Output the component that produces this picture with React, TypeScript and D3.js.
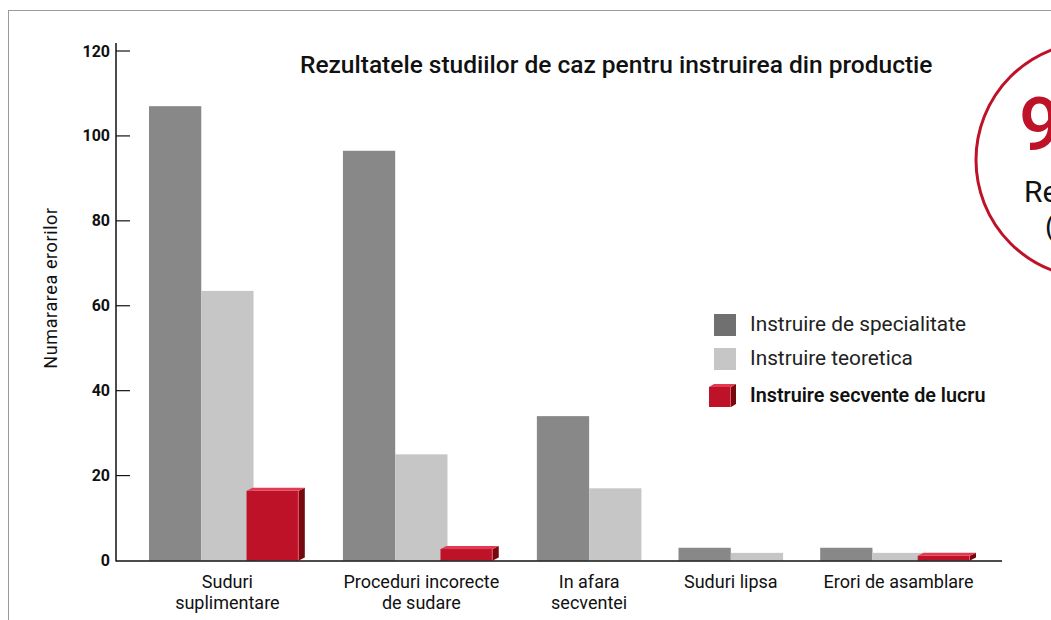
import React from "react";
import * as d3 from "d3";

const categories: string[][] = [
  ["Suduri", "suplimentare"],
  ["Proceduri incorecte", "de sudare"],
  ["In afara", "secventei"],
  ["Suduri lipsa"],
  ["Erori de asamblare"],
];
const specialitate = [107, 96.5, 34, 3, 3];
const teoretica = [63.5, 25, 17, 1.8, 1.8];
const secvente: (number | null)[] = [16.4, 2.7, null, null, 1.1];
const yTicks = [0, 20, 40, 60, 80, 100, 120];
const seriesNames = ["Instruire de specialitate", "Instruire teoretica", "Instruire secvente de lucru"];

const W = 1051;
const H = 620;
const FONT = "Roboto, 'Noto Sans', sans-serif";
const DARK = "#888888";
const LIGHT = "#c6c6c6";
const RED = "#be1229";
const RED_SIDE = "#74090f";
const RED_TOP = "#e23a52";

function Box3D({ x, y, w, h, d = 6, lift = 3 }: { x: number; y: number; w: number; h: number; d?: number; lift?: number }) {
  const top = `M${x},${y} L${x + d},${y - lift} L${x + w + d},${y - lift} L${x + w},${y} Z`;
  const side = `M${x + w},${y} L${x + w + d},${y - lift} L${x + w + d},${y + h - lift} L${x + w},${y + h} Z`;
  return (
    <g>
      <path d={side} fill={RED_SIDE} />
      <path d={top} fill={RED_TOP} />
      <rect x={x} y={y} width={w} height={h} fill={RED} />
      <line x1={x + w - 0.5} x2={x + w - 0.5} y1={y} y2={y + h} stroke="#e8566a" strokeWidth={1} />
    </g>
  );
}

export default function App() {
  const y = d3.scaleLinear().domain([0, 120]).range([560.5, 51]);

  // Groups are packed: each takes one slot per bar it actually has, with a fixed gap between groups.
  const GAP = 0.71;
  const slots = categories.map((_, i) => (secvente[i] != null ? 3 : 2));
  const starts: number[] = [];
  let acc = 0;
  slots.forEach((s) => {
    starts.push(acc);
    acc += s + GAP;
  });
  const total = acc - GAP;
  const x = d3.scaleLinear().domain([0, total]).range([149, 977]);
  const barW = x(1) - x(0);
  const axisX = 116;

  return (
    <svg
      width={W}
      height={H}
      style={{ position: "absolute", left: 0, top: 0, background: "#fff" }}
      fontFamily={FONT}
    >
      {/* frame */}
      <line x1={8.5} x2={8.5} y1={10} y2={H} stroke="#9a9a9a" strokeWidth={1} />
      <line x1={8} x2={W} y1={10.5} y2={10.5} stroke="#9a9a9a" strokeWidth={1} />

      {/* title */}
      <text x={300} y={73} fontSize={24.5} fontWeight={500} fill="#111">
        Rezultatele studiilor de caz pentru instruirea din productie
      </text>

      {/* y axis */}
      <line x1={axisX} x2={axisX} y1={43} y2={y(0) + 1} stroke="#111" strokeWidth={1.5} />
      {yTicks.map((t) => (
        <g key={t}>
          {t > 0 && <line x1={axisX} x2={130} y1={y(t)} y2={y(t)} stroke="#111" strokeWidth={1.2} />}
          <text x={110} y={y(t) + 5.5} textAnchor="end" fontSize={16} fontWeight={700} fill="#111">
            {t}
          </text>
        </g>
      ))}
      <text
        transform={`translate(57,288) rotate(-90)`}
        textAnchor="middle"
        fontSize={18}
        letterSpacing={0.6}
        fill="#111"
      >
        Numararea erorilor
      </text>

      {/* bars */}
      {categories.map((cat, i) => {
        const gx = x(starts[i]);
        const red = secvente[i];
        const labelX = (x(starts[i]) + x(starts[i] + slots[i])) / 2;
        return (
          <g key={i}>
            <rect x={gx} y={y(specialitate[i])} width={barW} height={y(0) - y(specialitate[i])} fill={DARK} />
            <rect x={gx + barW} y={y(teoretica[i])} width={barW} height={y(0) - y(teoretica[i])} fill={LIGHT} />
            {red != null && <Box3D x={gx + 2 * barW - 7} y={y(red)} w={barW} h={y(0) - y(red)} />}
            {cat.map((line, k) => (
              <text key={k} x={labelX} y={588 + k * 21} textAnchor="middle" fontSize={18} fill="#111">
                {line}
              </text>
            ))}
          </g>
        );
      })}

      {/* x axis */}
      <line x1={axisX} x2={1002} y1={y(0) + 0.5} y2={y(0) + 0.5} stroke="#111" strokeWidth={1.5} />

      {/* legend */}
      <g>
        <rect x={714} y={314} width={22} height={22} fill="#707070" />
        <text x={750} y={331} fontSize={20.8} fill="#222">{seriesNames[0]}</text>
        <rect x={714} y={348} width={22} height={22} fill={LIGHT} />
        <text x={750} y={365} fontSize={20.8} fill="#222">{seriesNames[1]}</text>
        <Box3D x={709} y={387} w={22} h={20} d={5} lift={3} />
        <text x={750} y={402} fontSize={19.8} fontWeight={600} fill="#111">{seriesNames[2]}</text>
      </g>

      {/* badge */}
      <circle cx={1094} cy={160} r={118} fill="#fff" stroke={RED} strokeWidth={3} />
      <text x={1019} y={150} fontSize={74} fontWeight={500} fill={RED}>90%</text>
      <text x={1024} y={202} fontSize={30} fill="#111">Reducere</text>
      <text x={1045} y={236} fontSize={28} fill="#111">(erori)</text>
    </svg>
  );
}
